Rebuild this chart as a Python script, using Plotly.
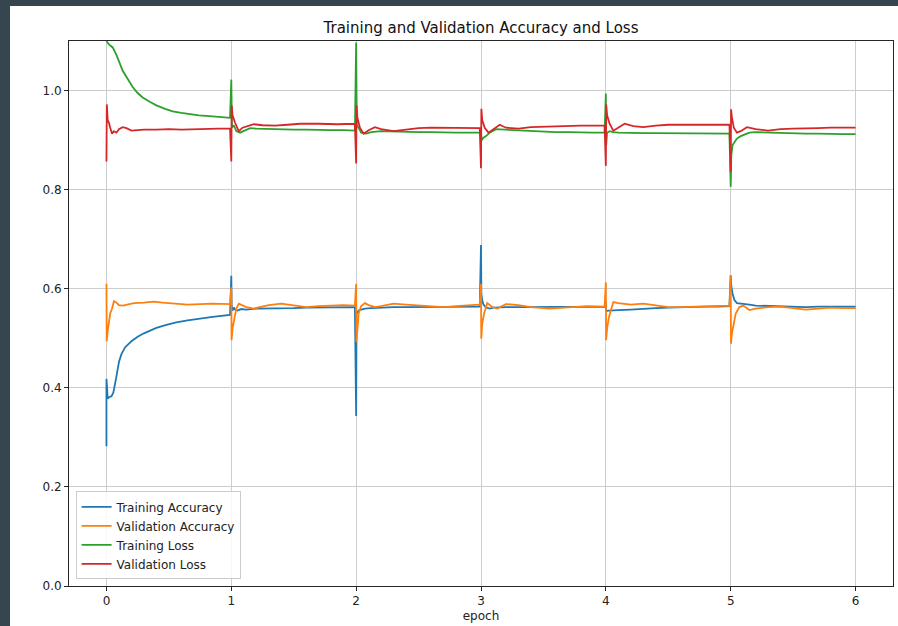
import plotly.graph_objects as go

# ---------------------------------------------------------------
# Per-batch running metrics, reset at the start of every epoch.
# x is the fractional epoch, values are the logged metric.
# ---------------------------------------------------------------

train_acc_x = [
    0.0, 0.0, 0.005, 0.01, 0.02, 0.04, 0.055, 0.078, 0.10, 0.12, 0.15, 0.20, 0.25, 0.30, 0.35, 0.40, 0.48, 0.56, 0.65, 0.75, 0.85, 0.92, 0.99,
    1.0, 1.003, 1.01, 1.02, 1.03, 1.05, 1.08, 1.12, 1.2, 1.3, 1.4, 1.5, 1.6, 1.7, 1.8, 1.9, 1.99,
    2.0, 2.003, 2.01, 2.02, 2.04, 2.07, 2.12, 2.2, 2.3, 2.4, 2.5, 2.6, 2.7, 2.8, 2.9, 2.99,
    3.0, 3.003, 3.01, 3.02, 3.04, 3.07, 3.1, 3.15, 3.2, 3.3, 3.4, 3.5, 3.6, 3.7, 3.8, 3.9, 3.99,
    4.0, 4.003, 4.02, 4.05, 4.1, 4.2, 4.3, 4.4, 4.5, 4.6, 4.7, 4.8, 4.9, 4.99,
    5.0, 5.005, 5.015, 5.03, 5.05, 5.1, 5.15, 5.2, 5.3, 5.4, 5.5, 5.6, 5.7, 5.8, 5.9, 6.0,
]
train_acc = [
    0.282, 0.418, 0.400, 0.378, 0.381, 0.383, 0.390, 0.420, 0.452, 0.468, 0.482, 0.494, 0.503, 0.510, 0.516, 0.521, 0.527, 0.532, 0.536, 0.540, 0.543, 0.545, 0.547,
    0.626, 0.565, 0.556, 0.562, 0.558, 0.556, 0.559, 0.558, 0.560, 0.560, 0.561, 0.561, 0.562, 0.562, 0.562, 0.563, 0.563,
    0.343, 0.550, 0.552, 0.556, 0.558, 0.560, 0.561, 0.562, 0.563, 0.563, 0.563, 0.563, 0.563, 0.564, 0.564, 0.564,
    0.688, 0.590, 0.576, 0.568, 0.562, 0.560, 0.562, 0.563, 0.563, 0.563, 0.563, 0.564, 0.564, 0.564, 0.564, 0.564, 0.564,
    0.574, 0.555, 0.556, 0.556, 0.557, 0.558, 0.560, 0.561, 0.562, 0.563, 0.564, 0.564, 0.564, 0.565,
    0.627, 0.605, 0.590, 0.577, 0.571, 0.570, 0.568, 0.566, 0.565, 0.564, 0.564, 0.563, 0.564, 0.564, 0.565, 0.564,
]

val_acc_x = [
    0.0, 0.002, 0.01, 0.02, 0.03, 0.045, 0.06, 0.08, 0.10, 0.13, 0.17, 0.22, 0.30, 0.38, 0.45, 0.55, 0.65, 0.75, 0.85, 0.99,
    1.0, 1.002, 1.01, 1.025, 1.04, 1.06, 1.09, 1.12, 1.18, 1.25, 1.3, 1.4, 1.5, 1.6, 1.7, 1.8, 1.9, 1.99,
    2.0, 2.002, 2.01, 2.02, 2.04, 2.07, 2.1, 2.15, 2.2, 2.3, 2.4, 2.5, 2.6, 2.7, 2.8, 2.9, 2.99,
    3.0, 3.002, 3.01, 3.025, 3.05, 3.09, 3.13, 3.2, 3.3, 3.4, 3.55, 3.7, 3.85, 3.99,
    4.0, 4.002, 4.01, 4.025, 4.06, 4.1, 4.2, 4.3, 4.4, 4.5, 4.6, 4.7, 4.8, 4.9, 4.99,
    5.0, 5.002, 5.01, 5.02, 5.04, 5.07, 5.1, 5.15, 5.2, 5.3, 5.4, 5.5, 5.6, 5.7, 5.8, 5.9, 6.0,
]
val_acc = [
    0.610, 0.494, 0.515, 0.535, 0.550, 0.560, 0.575, 0.572, 0.567, 0.566, 0.568, 0.571, 0.572, 0.574, 0.572, 0.570, 0.568, 0.569, 0.570, 0.569,
    0.603, 0.496, 0.520, 0.540, 0.560, 0.570, 0.566, 0.563, 0.560, 0.564, 0.567, 0.570, 0.566, 0.563, 0.565, 0.566, 0.567, 0.566,
    0.610, 0.492, 0.530, 0.550, 0.565, 0.571, 0.567, 0.563, 0.565, 0.570, 0.568, 0.566, 0.564, 0.563, 0.565, 0.567, 0.568,
    0.610, 0.499, 0.530, 0.550, 0.571, 0.563, 0.560, 0.569, 0.567, 0.563, 0.560, 0.563, 0.565, 0.564,
    0.613, 0.496, 0.520, 0.543, 0.573, 0.571, 0.568, 0.570, 0.566, 0.563, 0.563, 0.564, 0.565, 0.566, 0.566,
    0.627, 0.489, 0.510, 0.525, 0.550, 0.563, 0.566, 0.557, 0.560, 0.563, 0.564, 0.561, 0.558, 0.560, 0.562, 0.561, 0.561,
]

train_loss_x = [
    0.0, 0.02, 0.05, 0.08, 0.13, 0.17, 0.21, 0.25, 0.29, 0.35, 0.40, 0.47, 0.53, 0.60, 0.67, 0.74, 0.80, 0.87, 0.93, 0.99,
    1.0, 1.005, 1.02, 1.04, 1.07, 1.10, 1.15, 1.2, 1.3, 1.4, 1.5, 1.6, 1.7, 1.8, 1.9, 1.99,
    2.0, 2.005, 2.02, 2.04, 2.08, 2.12, 2.2, 2.3, 2.4, 2.5, 2.6, 2.7, 2.8, 2.9, 2.99,
    3.0, 3.005, 3.02, 3.04, 3.07, 3.12, 3.2, 3.3, 3.4, 3.5, 3.6, 3.7, 3.8, 3.9, 3.99,
    4.0, 4.003, 4.01, 4.03, 4.06, 4.1, 4.2, 4.3, 4.4, 4.5, 4.6, 4.7, 4.8, 4.9, 4.99,
    5.0, 5.005, 5.015, 5.03, 5.05, 5.08, 5.1, 5.15, 5.2, 5.3, 5.4, 5.5, 5.6, 5.7, 5.8, 5.9, 6.0,
]
train_loss = [
    1.100, 1.093, 1.087, 1.072, 1.040, 1.022, 1.007, 0.995, 0.986, 0.977, 0.970, 0.963, 0.958, 0.955, 0.952, 0.950, 0.949, 0.947, 0.946, 0.945,
    1.022, 0.925, 0.930, 0.918, 0.915, 0.918, 0.924, 0.923, 0.922, 0.922, 0.921, 0.921, 0.920, 0.920, 0.920, 0.919,
    1.097, 0.930, 0.925, 0.915, 0.913, 0.916, 0.918, 0.917, 0.917, 0.916, 0.916, 0.915, 0.915, 0.915, 0.915,
    0.915, 0.900, 0.905, 0.908, 0.915, 0.922, 0.921, 0.919, 0.918, 0.917, 0.916, 0.916, 0.915, 0.915, 0.915,
    0.994, 0.890, 0.915, 0.918, 0.916, 0.915, 0.914, 0.914, 0.914, 0.914, 0.913, 0.913, 0.913, 0.913, 0.913,
    0.806, 0.870, 0.890, 0.895, 0.903, 0.908, 0.910, 0.915, 0.916, 0.915, 0.914, 0.914, 0.913, 0.913, 0.912, 0.912, 0.912,
]

val_loss_x = [
    0.0, 0.003, 0.01, 0.02, 0.03, 0.045, 0.06, 0.08, 0.10, 0.13, 0.16, 0.20, 0.25, 0.30, 0.40, 0.50, 0.60, 0.70, 0.80, 0.90, 0.99,
    1.0, 1.003, 1.01, 1.03, 1.06, 1.09, 1.13, 1.18, 1.25, 1.35, 1.45, 1.55, 1.7, 1.85, 1.99,
    2.0, 2.003, 2.01, 2.03, 2.06, 2.1, 2.15, 2.2, 2.3, 2.4, 2.5, 2.6, 2.7, 2.8, 2.9, 2.99,
    3.0, 3.003, 3.01, 3.03, 3.06, 3.1, 3.15, 3.2, 3.3, 3.4, 3.5, 3.6, 3.7, 3.8, 3.9, 3.99,
    4.0, 4.003, 4.01, 4.03, 4.06, 4.1, 4.15, 4.22, 4.3, 4.4, 4.5, 4.6, 4.7, 4.8, 4.9, 4.99,
    5.0, 5.003, 5.01, 5.025, 5.05, 5.08, 5.13, 5.2, 5.3, 5.4, 5.5, 5.6, 5.7, 5.8, 5.9, 6.0,
]
val_loss = [
    0.857, 0.972, 0.940, 0.935, 0.925, 0.913, 0.918, 0.915, 0.922, 0.926, 0.924, 0.919, 0.920, 0.921, 0.921, 0.922, 0.921, 0.922, 0.922, 0.923, 0.923,
    0.857, 0.970, 0.950, 0.935, 0.918, 0.925, 0.928, 0.932, 0.930, 0.929, 0.931, 0.933, 0.933, 0.932, 0.933,
    0.853, 0.970, 0.945, 0.925, 0.913, 0.920, 0.926, 0.922, 0.918, 0.921, 0.924, 0.925, 0.925, 0.924, 0.925, 0.924,
    0.843, 0.963, 0.940, 0.925, 0.915, 0.922, 0.931, 0.925, 0.923, 0.926, 0.927, 0.928, 0.928, 0.929, 0.929, 0.929,
    0.848, 0.972, 0.950, 0.933, 0.919, 0.925, 0.933, 0.928, 0.926, 0.929, 0.931, 0.931, 0.931, 0.930, 0.931, 0.931,
    0.835, 0.962, 0.945, 0.925, 0.915, 0.918, 0.926, 0.922, 0.919, 0.922, 0.923, 0.923, 0.924, 0.925, 0.925, 0.925,
]

epoch_ticks = [0, 1, 2, 3, 4, 5, 6]
value_ticks = [0.0, 0.2, 0.4, 0.6, 0.8, 1.0]

series = [
    ("Training Accuracy", train_acc_x, train_acc, "#1f77b4"),
    ("Validation Accuracy", val_acc_x, val_acc, "#ff7f0e"),
    ("Training Loss", train_loss_x, train_loss, "#2ca02c"),
    ("Validation Loss", val_loss_x, val_loss, "#d62728"),
]

FONT = "DejaVu Sans"
W, H = 898, 626
ML, MR, MT, MB = 69, 5, 41, 40

fig = go.Figure()
for name, xs, ys, color in series:
    fig.add_trace(go.Scatter(
        x=xs, y=ys, mode="lines", name=name,
        line=dict(color=color, width=1.8),
    ))

axis_common = dict(
    showline=True, mirror=True, linecolor="#262626", linewidth=1,
    showgrid=True, gridcolor="#cdcdcd", gridwidth=1,
    ticks="outside", ticklen=4, tickcolor="#262626", tickwidth=1,
    zeroline=False,
    tickfont=dict(family=FONT, size=12, color="#222222"),
)

fig.update_xaxes(
    range=[-0.3, 6.3], tickvals=epoch_ticks,
    ticktext=[str(t) for t in epoch_ticks],
    title=dict(text="epoch", font=dict(family=FONT, size=12, color="#222222"), standoff=4),
    **axis_common,
)
fig.update_yaxes(
    range=[0, 1.1], tickvals=value_ticks,
    ticktext=[f"{t:.1f}" for t in value_ticks],
    **axis_common,
)

# dark window frame along the top and left edges
plot_w = W - ML - MR
plot_h = H - MT - MB
def px_x(p):
    return (p - ML) / plot_w
def px_y(p):
    return (H - MB - p) / plot_h

frame = "#36464f"
fig.add_shape(type="rect", xref="paper", yref="paper",
              x0=px_x(0), x1=px_x(W), y0=px_y(6), y1=px_y(0),
              fillcolor=frame, line=dict(width=0))
fig.add_shape(type="rect", xref="paper", yref="paper",
              x0=px_x(0), x1=px_x(10), y0=px_y(H), y1=px_y(0),
              fillcolor=frame, line=dict(width=0))

fig.update_layout(
    width=W, height=H,
    margin=dict(l=ML, r=MR, t=MT, b=MB),
    paper_bgcolor="white", plot_bgcolor="white",
    title=dict(text="Training and Validation Accuracy and Loss",
               font=dict(family=FONT, size=15, color="#111111"),
               x=0.5, xref="paper", xanchor="center",
               y=1 - 28 / H, yanchor="middle"),
    font=dict(family=FONT, size=12, color="#222222"),
    showlegend=True,
    legend=dict(
        x=0.008, y=0.012, xanchor="left", yanchor="bottom",
        bgcolor="rgba(255,255,255,0.85)", bordercolor="#cccccc", borderwidth=1,
        font=dict(family=FONT, size=12, color="#222222"),
        itemwidth=30, tracegroupgap=0,
    ),
)

fig.write_html("out.html")
